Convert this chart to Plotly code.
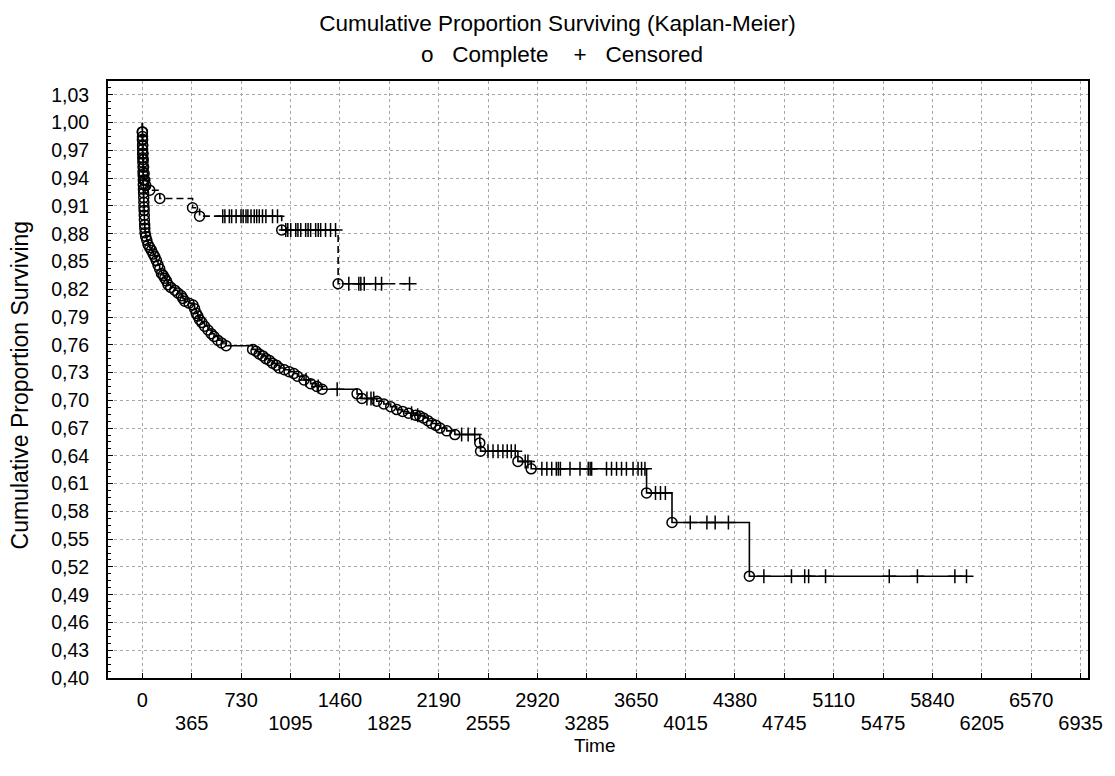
import plotly.graph_objects as go

# ---------------- data ----------------
start_time = 0
start_surv = 1.0

# Group 1 (solid line): complete (event) times and survival after each event
g1_event_time = [0, 1, 1, 2, 2, 3, 3, 4, 5, 5, 6, 7, 7, 8, 9, 10, 11, 12, 13, 14, 15, 17, 18, 20,
                 25, 33, 43, 55, 67, 80, 92, 104, 116, 128, 141, 153, 165, 178, 190, 210, 239, 262,
                 288, 300, 313, 345, 374, 386, 398, 410, 423, 440, 460, 485, 509, 530, 557, 585, 619,
                 815, 840, 864, 890, 913, 940, 962, 990, 1011, 1050, 1085, 1120, 1146, 1195, 1244,
                 1290, 1329, 1587, 1623, 1733, 1785, 1836, 1880, 1924, 1968, 2020, 2050, 2077, 2110,
                 2138, 2170, 2200, 2250, 2310, 2494, 2500, 2776, 2874, 3727, 3915, 4487]
g1_event_surv = [0.990, 0.985, 0.981, 0.976, 0.971, 0.966, 0.962, 0.957, 0.952, 0.947, 0.943, 0.938,
                 0.933, 0.928, 0.924, 0.919, 0.914, 0.909, 0.905, 0.900, 0.895, 0.890, 0.886, 0.881,
                 0.877, 0.873, 0.868, 0.865, 0.862, 0.858, 0.855, 0.851, 0.846, 0.842, 0.837, 0.835,
                 0.832, 0.829, 0.825, 0.822, 0.819, 0.816, 0.813, 0.810, 0.807, 0.805, 0.803, 0.799,
                 0.794, 0.791, 0.787, 0.784, 0.780, 0.776, 0.772, 0.769, 0.765, 0.762, 0.759,
                 0.755, 0.753, 0.750, 0.748, 0.745, 0.743, 0.740, 0.738, 0.735, 0.733, 0.731, 0.729,
                 0.726, 0.722, 0.718, 0.715, 0.712, 0.707, 0.702, 0.699, 0.696, 0.693, 0.690, 0.688,
                 0.686, 0.684, 0.683, 0.681, 0.678, 0.675, 0.673, 0.670, 0.667, 0.663, 0.654, 0.645,
                 0.634, 0.626, 0.600, 0.568, 0.510]
# Group 1 censored times
g1_cens_time = [1210, 1300, 1440, 1660, 1690, 1710, 1990, 2035, 2360, 2408, 2457,
                2555, 2592, 2629, 2665, 2697, 2727, 2756, 2830, 2850,
                2953, 2990, 3026, 3060, 3075, 3090, 3161, 3235, 3296, 3310, 3321, 3431, 3468,
                3505, 3542, 3578, 3627, 3664, 3690, 3715,
                3793, 3830, 3866, 4050, 4173, 4234, 4332,
                4594, 4798, 4896, 4925, 5050, 5521, 5729, 6006, 6092]

# Group 2 (dashed line)
g2_event_time = [0, 1, 2, 4, 6, 9, 13, 18, 25, 55, 129, 371, 423, 1030, 1447]
g2_event_surv = [0.990, 0.982, 0.975, 0.967, 0.960, 0.952, 0.945, 0.938, 0.932, 0.927, 0.918,
                 0.908, 0.899, 0.884, 0.826]
g2_cens_time = [594, 610, 643, 660, 693, 729, 745, 766, 780, 803, 827, 845, 864, 888, 913, 962, 999,
                1060, 1075, 1097, 1134, 1150, 1171, 1207, 1225, 1244, 1281, 1300, 1318, 1354, 1391, 1428,
                1526, 1600, 1615, 1640, 1724, 1768, 1975]

x_tick_vals = [0, 365, 730, 1095, 1460, 1825, 2190, 2555, 2920, 3285, 3650, 4015, 4380, 4745,
               5110, 5475, 5840, 6205, 6570, 6935]
x_tick_labels = ["0", "365", "730", "1095", "1460", "1825", "2190", "2555", "2920", "3285",
                 "3650", "4015", "4380", "4745", "5110", "5475", "5840", "6205", "6570", "6935"]
y_tick_vals = [0.40, 0.43, 0.46, 0.49, 0.52, 0.55, 0.58, 0.61, 0.64, 0.67, 0.70, 0.73, 0.76,
               0.79, 0.82, 0.85, 0.88, 0.91, 0.94, 0.97, 1.00, 1.03]
y_tick_labels = ["0,40", "0,43", "0,46", "0,49", "0,52", "0,55", "0,58", "0,61", "0,64", "0,67",
                 "0,70", "0,73", "0,76", "0,79", "0,82", "0,85", "0,88", "0,91", "0,94", "0,97",
                 "1,00", "1,03"]

title_text = "Cumulative Proportion Surviving (Kaplan-Meier)"
legend_text = ("o\u00a0\u00a0\u00a0Complete\u00a0\u00a0\u00a0\u00a0+"
               "\u00a0\u00a0\u00a0Censored")
x_title = "Time"
y_title = "Cumulative Proportion Surviving"

FONT = "Liberation Sans, Arial, sans-serif"

# page offset compensation (browser body margin of 8 px)
OFF = 8
W, H = 1115 - OFF, 776 - OFF


def surv_at(t, ev_t, ev_s):
    s = start_surv
    for et, es in zip(ev_t, ev_s):
        if et <= t:
            s = es
    return s


def add_group(fig, ev_t, ev_s, cens_t, dash):
    end_t = max(cens_t)
    line_x = [start_time] + ev_t + [end_t]
    line_y = [start_surv] + ev_s + [surv_at(end_t, ev_t, ev_s)]
    fig.add_trace(go.Scatter(x=line_x, y=line_y, mode="lines", line_shape="hv",
                             line=dict(color="black", width=1.6, dash=dash), hoverinfo="skip"))
    fig.add_trace(go.Scatter(x=ev_t, y=ev_s, mode="markers",
                             marker=dict(symbol="circle-open", size=10, color="black",
                                         line=dict(width=1.5, color="black"))))
    fig.add_trace(go.Scatter(x=cens_t, y=[surv_at(t, ev_t, ev_s) for t in cens_t], mode="markers",
                             marker=dict(symbol="cross-thin-open", size=10, color="black",
                                         line=dict(width=1.5, color="black"))))


fig = go.Figure()
add_group(fig, g2_event_time, g2_event_surv, g2_cens_time, "7px,4px")
add_group(fig, g1_event_time, g1_event_surv, g1_cens_time, "solid")

# helper (invisible) trace so the second label row axis is drawn
fig.add_trace(go.Scatter(x=[x_tick_vals[0]], y=[y_tick_vals[0]], xaxis="x2", mode="markers",
                         marker=dict(opacity=0), hoverinfo="skip"))

row1_text = [lab if i % 2 == 0 else "" for i, lab in enumerate(x_tick_labels)]
row2_vals = [v for i, v in enumerate(x_tick_vals) if i % 2 == 1]
row2_text = [lab for i, lab in enumerate(x_tick_labels) if i % 2 == 1]

x_range = [-254, 6990]
fig.update_layout(
    width=W, height=H,
    margin=dict(l=108 - OFF, r=22, t=81 - OFF, b=98),
    paper_bgcolor="white", plot_bgcolor="white",
    showlegend=False,
    font=dict(family=FONT, color="black"),
    title=dict(text=title_text, x=(557.5 - OFF) / W, xref="container", xanchor="center",
               y=1 - (23 - OFF) / H, yref="container", yanchor="middle",
               font=dict(size=22.5, family=FONT, color="black")),
    xaxis=dict(
        range=x_range, tickmode="array", tickvals=x_tick_vals, ticktext=row1_text,
        ticks="inside", ticklen=5, tickwidth=1, tickcolor="black",
        tickfont=dict(size=20, family=FONT, color="black"), ticklabelstandoff=3,
        showline=True, linecolor="black", linewidth=2, mirror=True,
        showgrid=True, gridcolor="#a8a8a8", gridwidth=1, griddash="dot", zeroline=False,
    ),
    xaxis2=dict(
        range=x_range, overlaying="x", side="bottom", anchor="y",
        tickmode="array", tickvals=row2_vals, ticktext=row2_text, ticks="",
        tickfont=dict(size=20, family=FONT, color="black"), ticklabelstandoff=31,
        showline=False, showgrid=False, zeroline=False,
    ),
    yaxis=dict(
        range=[0.40, 1.045], tickmode="array", tickvals=y_tick_vals, ticktext=y_tick_labels,
        ticks="inside", ticklen=5, tickwidth=1, tickcolor="black",
        minor=dict(ticks="inside", ticklen=3, tickcolor="black", tick0=0.40, dtick=0.0075,
                   showgrid=False),
        tickfont=dict(size=19.5, family=FONT, color="black"), ticklabelstandoff=13,
        showline=True, linecolor="black", linewidth=2, mirror=True,
        showgrid=True, gridcolor="#a8a8a8", gridwidth=1, griddash="dot", zeroline=False,
    ),
)
fig.add_annotation(text=legend_text, xref="paper", yref="paper", x=(564 - 108) / 985,
                   y=1 + (81 - 55) / 597, xanchor="center", yanchor="middle", showarrow=False,
                   font=dict(size=22.5, family=FONT, color="black"))
fig.add_annotation(text=x_title, xref="paper", yref="paper", x=(597 - 108) / 985,
                   y=-(746 - 678) / 597, xanchor="center", yanchor="middle", showarrow=False,
                   font=dict(size=19, family=FONT, color="black"))
fig.add_annotation(text=y_title, xref="paper", yref="paper", x=(20 - 108) / 985,
                   y=(678 - 385) / 597, xanchor="center", yanchor="middle", showarrow=False,
                   textangle=-90, font=dict(size=23, family=FONT, color="black"))

fig.write_html("out.html")
